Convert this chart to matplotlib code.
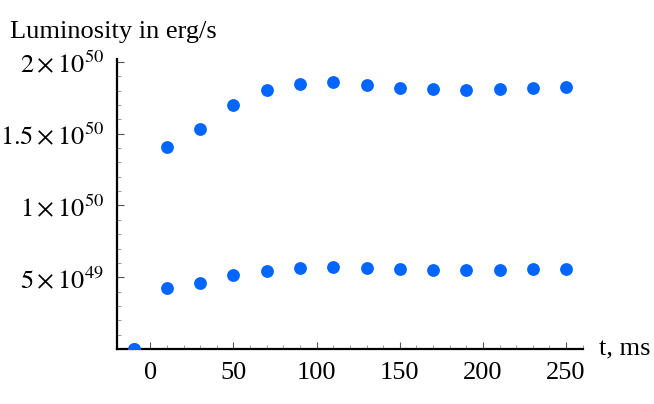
import numpy as np
import matplotlib
matplotlib.use("Agg")
import matplotlib.pyplot as plt
from matplotlib.ticker import MultipleLocator

plt.rcParams['font.family'] = ['Liberation Serif', 'DejaVu Serif']
plt.rcParams['mathtext.fontset'] = 'stix'

t = [-10, 10, 30, 50, 70, 90, 110, 130, 150, 170, 190, 210, 230, 250]
# luminosity in units of 1e50 erg/s
lum_upper = [0.0, 1.41, 1.535, 1.70, 1.803, 1.849, 1.863, 1.838, 1.819, 1.808, 1.803, 1.808, 1.817, 1.828]
lum_lower = [0.0, 0.426, 0.463, 0.516, 0.547, 0.565, 0.572, 0.5625, 0.556, 0.553, 0.551, 0.553, 0.556, 0.558]

y_ticks = [0.5e50, 1e50, 1.5e50, 2e50]
y_tick_labels = [r'$5\times10^{49}$', r'$1\times10^{50}$', r'$1.5\times10^{50}$', r'$2\times10^{50}$']

color = '#0066ff'

fig = plt.figure(figsize=(6.54, 4.04), dpi=100)
ax = fig.add_axes([0.179, 0.136, 0.712, 0.718])

ax.scatter(t, np.array(lum_upper) * 1e50, s=85, color=color, linewidths=0, zorder=3)
ax.scatter(t, np.array(lum_lower) * 1e50, s=85, color=color, linewidths=0, zorder=3)

ax.set_xlim(-20, 260)
ax.set_ylim(0, 2.02e50)

for s in ['top', 'right']:
    ax.spines[s].set_visible(False)
for s in ['left', 'bottom']:
    ax.spines[s].set_linewidth(1.6)

ax.xaxis.set_major_locator(MultipleLocator(50))
ax.xaxis.set_minor_locator(MultipleLocator(10))
ax.set_yticks(y_ticks)
ax.set_yticklabels(y_tick_labels)
ax.yaxis.set_minor_locator(MultipleLocator(1e49))
ax.yaxis.get_offset_text().set_visible(False)

ax.tick_params(which='major', direction='in', length=5, width=0.8, color='#555555',
               labelsize=19, pad=9)
ax.tick_params(which='minor', direction='in', length=3, width=0.6, color='#888888')

fig.text(0.016, 0.92, 'Luminosity in erg/s', fontsize=19, ha='left', va='center')
fig.text(0.916, 0.136, 't, ms', fontsize=19, ha='left', va='center')

fig.savefig('out.png', dpi=100)
